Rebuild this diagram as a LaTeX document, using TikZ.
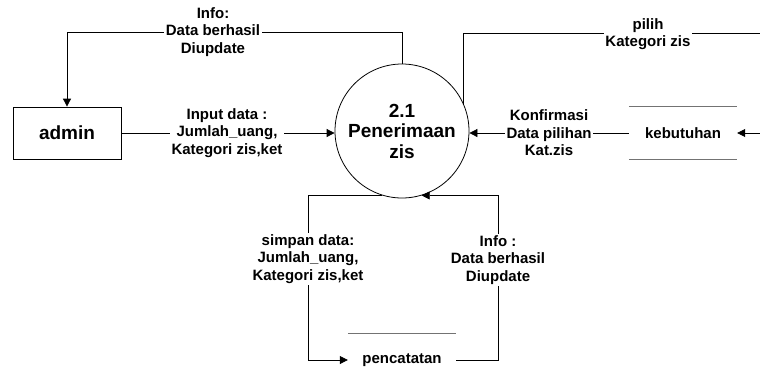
\documentclass[tikz,border=0pt]{standalone}
\usepackage{fontspec}
\setmainfont{Liberation Sans}
\usetikzlibrary{arrows.meta}
\begin{document}
\begin{tikzpicture}[x=1pt, y=-1pt,
  conn/.style={draw, line width=0.8pt},
  flow/.style={conn, -{Triangle[length=8pt, width=8pt]}},
  lbl/.style={font=\bfseries\fontsize{15}{17.5}\selectfont, align=center,
    fill=white, inner sep=1.5pt},
  proc/.style={circle, draw, line width=0.8pt, minimum size=134pt, inner sep=0pt,
    align=center, font=\bfseries\fontsize{19}{20.5}\selectfont},
  entity/.style={rectangle, draw, line width=0.8pt, minimum width=108pt,
    minimum height=52pt, font=\bfseries\fontsize{19}{22}\selectfont},
  store/.style={minimum width=108pt, minimum height=52pt, inner sep=0pt,
    font=\bfseries\fontsize{15}{17.5}\selectfont},
  storeline/.style={draw, black!55, line width=1.3pt}
]
\useasboundingbox (0,0) rectangle (760,384);

% processes, entities and data stores
\node[proc] (p) at (402,131) {2.1\\Penerimaan\\zis};
\node[entity] (admin) at (67,133) {admin};
\node[store] (keb) at (683,133) {kebutuhan};
\node[store] (pen) at (402,360) {pencatatan};

\draw[storeline] (keb.north west) -- (keb.north east);
\draw[storeline] (keb.south west) -- (keb.south east);
\draw[storeline] (pen.north west) -- (pen.north east);

% bend points and loose ends
\coordinate (tl) at (67,32);
\coordinate (tr) at (760,33);
\coordinate (rin) at (760,133);
\coordinate (bl) at (308,360);
\coordinate (br) at (498,360);

% data flows
\draw[flow] (p.north) |- (tl) -- (admin.north);
\draw[flow] (admin.east) -- (admin.east -| p.west);
\draw[conn] (p.24) |- (tr);
\draw[flow] (rin) -- (keb.east);
\draw[flow] (keb.west) -- (keb.west -| p.east);
\draw[flow] (p.253) -| (bl) -- (pen.west);
\draw[flow] (pen.east) -- (br) |- (p.287);

% flow labels
\node[lbl] (l1) at (213,32) {Info:\\Data berhasil\\Diupdate};
\node[lbl] (l2) at (227,133) {Input data :\\Jumlah\_uang,\\Kategori zis,ket};
\node[lbl] (l3) at (648,34) {pilih\\Kategori zis};
\node[lbl] (l4) at (549,133) {Konfirmasi\\Data pilihan\\Kat.zis};
\node[lbl] (l5) at (308,259) {simpan data:\\Jumlah\_uang,\\Kategori zis,ket};
\node[lbl] (l6) at (498,260) {Info :\\Data berhasil\\Diupdate};
\end{tikzpicture}
\end{document}
